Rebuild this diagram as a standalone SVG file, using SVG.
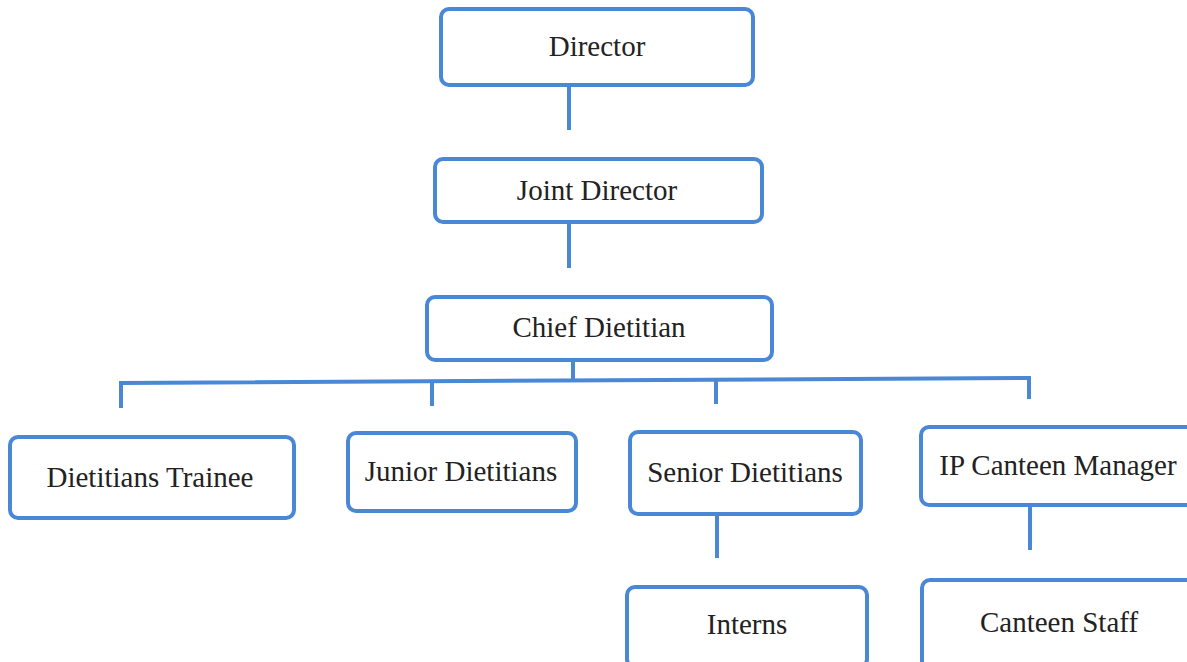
<svg xmlns="http://www.w3.org/2000/svg" width="1187" height="662" viewBox="0 0 1187 662">
<style>
.box{fill:#fff;stroke:#4a88d6;stroke-width:4}
.t{font-family:"Liberation Serif","Times New Roman",serif;font-size:29px;fill:#222;text-anchor:middle}
.c{stroke:#4a88d6;stroke-width:4;fill:none}
</style>
<rect width="1187" height="662" fill="#fff"/>
<g id="connectors">
<line class="c" x1="569" y1="85" x2="569" y2="130"/>
<line class="c" x1="569" y1="222" x2="569" y2="268"/>
<line class="c" x1="573" y1="360" x2="573" y2="381"/>
<polyline class="c" points="121,408 121,383 1029,378 1029,399"/>
<line class="c" x1="432" y1="382" x2="432" y2="406"/>
<line class="c" x1="716" y1="380" x2="716" y2="404"/>
<line class="c" x1="717" y1="514" x2="717" y2="558"/>
<line class="c" x1="1030" y1="505" x2="1030" y2="550"/>
</g>
<g id="director"><rect class="box" x="441" y="9" width="312" height="76" rx="8"/><text class="t" x="597" y="56">Director</text></g>
<g id="joint-director"><rect class="box" x="435" y="159" width="327" height="63" rx="8"/><text class="t" x="597" y="200">Joint Director</text></g>
<g id="chief-dietitian"><rect class="box" x="427" y="297" width="345" height="63" rx="8"/><text class="t" x="599" y="337">Chief Dietitian</text></g>
<g id="dietitians-trainee"><rect class="box" x="10" y="437" width="284" height="81" rx="8"/><text class="t" x="150" y="487">Dietitians Trainee</text></g>
<g id="junior-dietitians"><rect class="box" x="348" y="433" width="228" height="78" rx="8"/><text class="t" x="461" y="481">Junior Dietitians</text></g>
<g id="senior-dietitians"><rect class="box" x="630" y="432" width="231" height="82" rx="8"/><text class="t" x="745" y="482">Senior Dietitians</text></g>
<g id="ip-canteen-manager"><rect class="box" x="921" y="427" width="280" height="78" rx="8"/><text class="t" x="1058" y="475">IP Canteen Manager</text></g>
<g id="interns"><rect class="box" x="627" y="587" width="240" height="80" rx="8"/><text class="t" x="747" y="634">Interns</text></g>
<g id="canteen-staff"><rect class="box" x="922" y="580" width="280" height="90" rx="8"/><text class="t" x="1059" y="632">Canteen Staff</text></g>
</svg>
